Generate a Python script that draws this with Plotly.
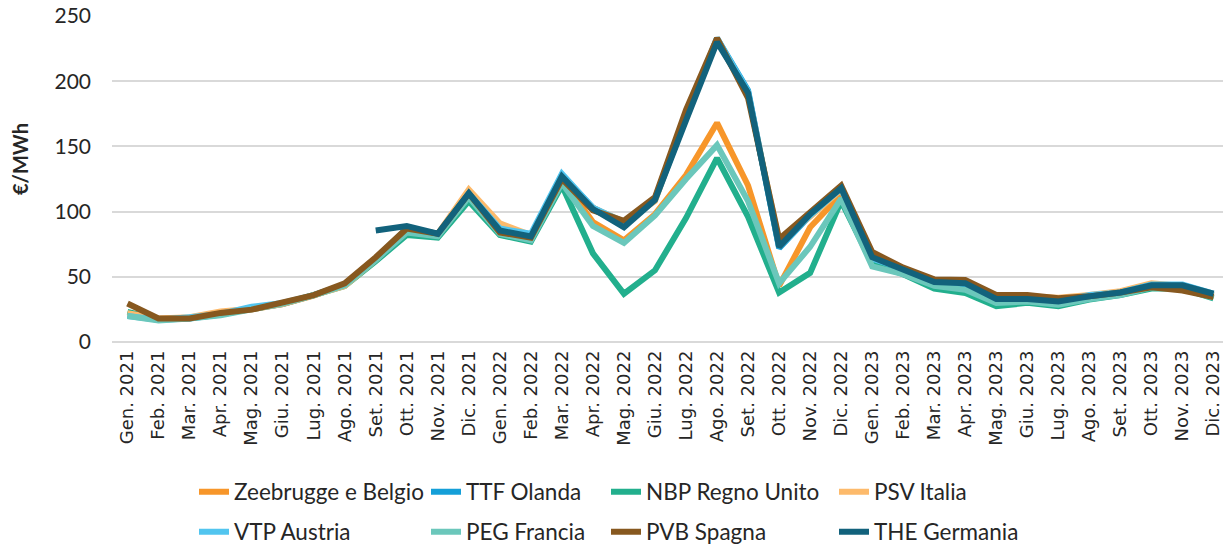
import plotly.graph_objects as go

months = ["Gen. 2021", "Feb. 2021", "Mar. 2021", "Apr. 2021", "Mag. 2021", "Giu. 2021",
          "Lug. 2021", "Ago. 2021", "Set. 2021", "Ott. 2021", "Nov. 2021", "Dic. 2021",
          "Gen. 2022", "Feb. 2022", "Mar. 2022", "Apr. 2022", "Mag. 2022", "Giu. 2022",
          "Lug. 2022", "Ago. 2022", "Set. 2022", "Ott. 2022", "Nov. 2022", "Dic. 2022",
          "Gen. 2023", "Feb. 2023", "Mar. 2023", "Apr. 2023", "Mag. 2023", "Giu. 2023",
          "Lug. 2023", "Ago. 2023", "Set. 2023", "Ott. 2023", "Nov. 2023", "Dic. 2023"]

zeebrugge = [22, 17.5, 18.5, 22.5, 25, 29, 35.5, 44, 64, 86, 82, 114,
             84, 79, 125, 92, 78, 98, 128, 168, 120, 43, 88, 113,
             62, 54, 44, 43, 31, 32, 30, 34, 37, 44, 42, 35]
ttf = [20.5, 17, 18, 21, 25.5, 29, 36, 44, 63, 87, 82, 114,
       84.5, 80.5, 128, 103, 91, 109, 172, 233, 193, 72, 97, 117,
       64, 55, 45, 44, 32, 33, 30.5, 35.5, 38, 43, 43, 36]
nbp = [23, 17.5, 18.5, 21, 26, 29.5, 36, 43, 62, 82, 80, 108,
       82, 77, 120, 68, 37, 55, 95, 141, 96, 38, 53, 108,
       60, 52, 41, 37.5, 27.5, 30, 27.5, 32.5, 36, 41, 41, 33.5]
psv = [22, 18, 19, 23.5, 25.5, 29, 36, 43, 63, 86, 83, 117,
       91, 82, 124, 103, 92, 108, 175, 232, 190, 77, 96, 117,
       66, 56, 47, 46, 35, 35, 34, 36, 39, 45, 43, 36]
vtp = [20, 17, 19, 21.5, 27, 30, 36, 44, 64, 87, 83, 114,
       87, 83, 129, 103, 92, 110, 174, 233, 192, 73, 97, 118,
       64, 56, 46, 45, 33, 34, 31, 36, 38, 44, 44, 37]
peg = [20, 16.5, 18, 20.5, 25, 29.5, 36, 43.5, 63, 84, 81, 111,
       83, 78, 122, 89, 76, 97, 125, 151, 108, 45, 73, 110,
       58, 52, 43, 40, 30, 31, 28.5, 33, 36, 42, 41, 34]
pvb = [29.5, 18, 18, 22.3, 24.8, 30, 36, 45, 65, 87, 83, 114,
       84, 80, 125, 101, 93, 111, 178, 233, 187, 79, 100, 120,
       69, 57, 48, 47.5, 36, 36, 33.5, 35, 38, 42, 39.5, 34.5]
the = [None, None, None, None, None, None, None, None, 85.5, 89, 83, 114,
       85.5, 81, 127, 102, 88, 109, 170, 230, 191, 73, 98, 118,
       65, 56, 46, 45, 33, 33, 31, 35, 38, 43.5, 43.5, 37]

y_ticks = [0, 50, 100, 150, 200, 250]

names = ["Zeebrugge e Belgio", "TTF Olanda", "NBP Regno Unito", "PSV Italia",
         "VTP Austria", "PEG Francia", "PVB Spagna", "THE Germania"]
series = [zeebrugge, ttf, nbp, psv, vtp, peg, pvb, the]
colors = ["#F7962A", "#149FD8", "#22AF8D", "#FDBA6B",
          "#52C5EF", "#6BC7BB", "#87581F", "#12627C"]

# The page body adds an 8px offset; figure size/margins compensate for it.
W, H = 1223, 540
leg_x = [186, 418, 598, 826]
leg_y = [484, 524]

fig = go.Figure()
layout_legends = {}
for i, (nm, ys, c) in enumerate(zip(names, series, colors)):
    lname = "legend" if i == 0 else f"legend{i+1}"
    fig.add_trace(go.Scatter(
        x=months, y=ys, name=nm, mode="lines",
        line=dict(color=c, width=6, shape="linear"),
        connectgaps=False, legend=lname,
    ))
    layout_legends[lname] = dict(
        xref="container", yref="container",
        x=leg_x[i % 4] / W, y=1 - leg_y[i // 4] / H,
        xanchor="left", yanchor="middle",
        orientation="h", bgcolor="rgba(0,0,0,0)",
        font=dict(family="Lato", size=22.5, color="#262626"),
        itemwidth=30,
    )

fig.update_layout(
    width=W, height=H,
    margin=dict(l=104, r=2, t=8, b=206, autoexpand=False),
    paper_bgcolor="white", plot_bgcolor="white",
    showlegend=True,
    **layout_legends,
)

fig.update_xaxes(
    type="category", tickangle=-90, range=[-0.5, 35.5],
    tickfont=dict(family="DejaVu Sans", size=18, color="#262626"),
    showgrid=False, showline=False, ticks="", ticklabelstandoff=4,
    automargin=False,
)
fig.update_yaxes(
    range=[0, 250], tickmode="array", tickvals=y_ticks,
    tickfont=dict(family="Lato", size=21, color="#262626"),
    ticklabeloverflow="allow", automargin=False,
    showgrid=True, gridcolor="#D9D9D9", gridwidth=2,
    zeroline=True, zerolinecolor="#D9D9D9", zerolinewidth=2,
    showline=False, ticks="", ticklabelstandoff=20,
)

fig.add_annotation(
    text="<b>€/MWh</b>", textangle=-90, showarrow=False,
    xref="paper", yref="paper",
    x=-(104 - 12) / 1117, y=(334 - 151) / 326,
    xanchor="center", yanchor="middle",
    font=dict(family="Lato", size=20, color="#262626"),
)

fig.write_html("out.html")
